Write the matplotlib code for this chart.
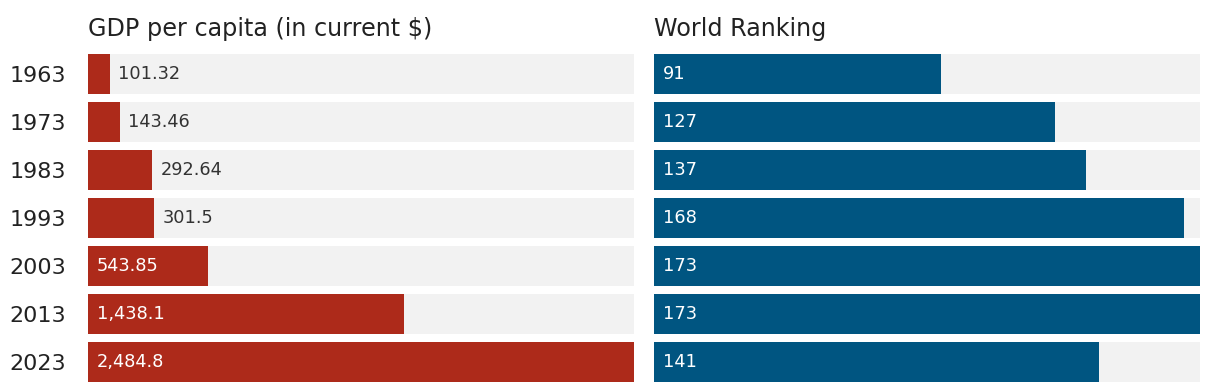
import matplotlib
matplotlib.use("Agg")
from matplotlib import pyplot as plt

# データ
years = ["1963", "1973", "1983", "1993", "2003", "2013", "2023"]
gdp = [101.32, 143.46, 292.64, 301.5, 543.85, 1438.1, 2484.8]
gdp_labels = ["101.32", "143.46", "292.64", "301.5", "543.85", "1,438.1", "2,484.8"]
rank = [91, 127, 137, 168, 173, 173, 141]
rank_labels = ["91", "127", "137", "168", "173", "173", "141"]

RED = "#ad2a1a"
BLUE = "#005581"
GRAY = "#f2f2f2"
TEXT = "#333333"

plt.rcParams["font.family"] = ["DejaVu Sans"]

W, H = 1220, 392
fig = plt.figure(figsize=(W / 100, H / 100), dpi=100)

def px_axes(x0, x1, y0, y1):
    # ピクセル座標（上が0）から axes を作る
    return fig.add_axes([x0 / W, 1 - y1 / H, (x1 - x0) / W, (y1 - y0) / H])

bar_h = 40 / 48
ypos = list(range(len(years)))

def panel(ax, values, labels, color, vmax, title, show_years):
    ax.barh(ypos, [vmax] * len(values), height=bar_h, color=GRAY, zorder=1)
    ax.barh(ypos, values, height=bar_h, color=color, zorder=2)
    ax.set_xlim(0, vmax)
    ax.set_ylim(len(years) - 1 + bar_h / 2, -bar_h / 2)
    for s in ax.spines.values():
        s.set_visible(False)
    ax.set_xticks([])
    ax.set_yticks(ypos)
    if show_years:
        ax.set_yticklabels(years, fontsize=16, color="#222222")
        ax.tick_params(axis="y", length=0, pad=16)
    else:
        ax.set_yticklabels([])
        ax.tick_params(axis="y", length=0)
    for y, v, lab in zip(ypos, values, labels):
        if v / vmax > 0.18:
            ax.annotate(lab, (0, y), xytext=(9, 0), textcoords="offset pixels",
                        ha="left", va="center", fontsize=12.8, color="white", zorder=3)
        else:
            ax.annotate(lab, (v, y), xytext=(8, 0), textcoords="offset pixels",
                        ha="left", va="center", fontsize=12.8, color=TEXT, zorder=3)
    ax.text(0, -bar_h / 2 - 0.375, title, ha="left", va="baseline",
            fontsize=17.2, color="#222222")

ax1 = px_axes(88, 634, 54, 382)
panel(ax1, gdp, gdp_labels, RED, max(gdp), "GDP per capita (in current $)", True)

ax2 = px_axes(654, 1200, 54, 382)
panel(ax2, rank, rank_labels, BLUE, max(rank), "World Ranking", False)

fig.savefig("out.png", dpi=100)
